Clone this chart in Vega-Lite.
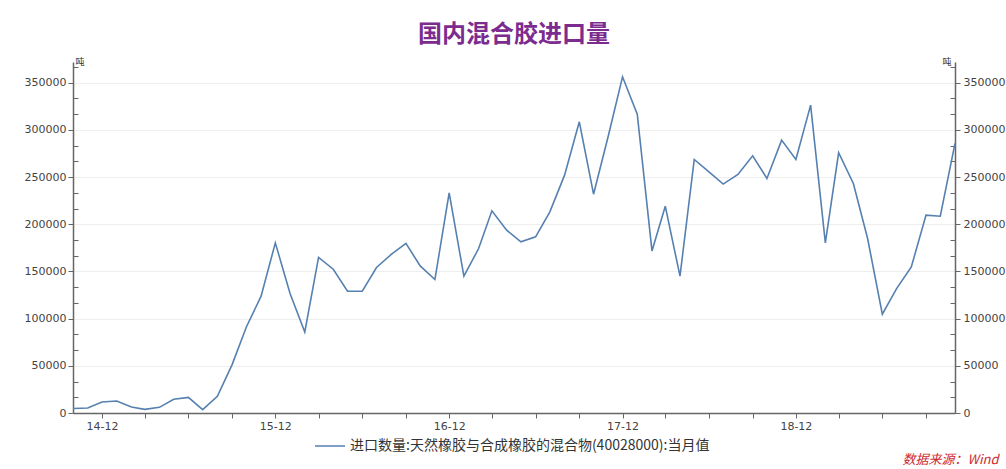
{
  "$schema": "https://vega.github.io/schema/vega-lite/v6.json",
  "autosize": "none",
  "width": 882,
  "height": 351,
  "padding": {"left": 73, "top": 62, "right": 51, "bottom": 56},
  "background": "white",
  "title": {
    "text": "国内混合胶进口量",
    "color": "#7B2C8E",
    "fontSize": 24,
    "font": "Noto Sans CJK SC",
    "fontWeight": "bold",
    "anchor": "middle",
    "offset": 10
  },
  "config": {
    "view": {"stroke": null},
    "axis": {
      "labelFont": "DejaVu Sans",
      "labelFontSize": 11,
      "labelColor": "#444444",
      "domainColor": "#666666",
      "domainWidth": 1.5,
      "tickColor": "#666666",
      "tickWidth": 1
    }
  },
  "data": {
    "values": [
      {"date": "2014-10-01", "value": 4700},
      {"date": "2014-11-01", "value": 5300},
      {"date": "2014-12-01", "value": 11700},
      {"date": "2015-01-01", "value": 12700},
      {"date": "2015-02-01", "value": 6400},
      {"date": "2015-03-01", "value": 3900},
      {"date": "2015-04-01", "value": 6000},
      {"date": "2015-05-01", "value": 14500},
      {"date": "2015-06-01", "value": 16600},
      {"date": "2015-07-01", "value": 3600},
      {"date": "2015-08-01", "value": 17700},
      {"date": "2015-09-01", "value": 51300},
      {"date": "2015-10-01", "value": 91200},
      {"date": "2015-11-01", "value": 123800},
      {"date": "2015-12-01", "value": 180300},
      {"date": "2016-01-01", "value": 126600},
      {"date": "2016-02-01", "value": 85900},
      {"date": "2016-03-01", "value": 164900},
      {"date": "2016-04-01", "value": 152400},
      {"date": "2016-05-01", "value": 129100},
      {"date": "2016-06-01", "value": 129100},
      {"date": "2016-07-01", "value": 154200},
      {"date": "2016-08-01", "value": 168000},
      {"date": "2016-09-01", "value": 179700},
      {"date": "2016-10-01", "value": 155900},
      {"date": "2016-11-01", "value": 141500},
      {"date": "2016-12-01", "value": 233300},
      {"date": "2017-01-01", "value": 145000},
      {"date": "2017-02-01", "value": 174300},
      {"date": "2017-03-01", "value": 214300},
      {"date": "2017-04-01", "value": 193800},
      {"date": "2017-05-01", "value": 181400},
      {"date": "2017-06-01", "value": 186700},
      {"date": "2017-07-01", "value": 213200},
      {"date": "2017-08-01", "value": 252100},
      {"date": "2017-09-01", "value": 308600},
      {"date": "2017-10-01", "value": 231900},
      {"date": "2017-11-01", "value": 293500},
      {"date": "2017-12-01", "value": 356300},
      {"date": "2018-01-01", "value": 316800},
      {"date": "2018-02-01", "value": 171800},
      {"date": "2018-03-01", "value": 219200},
      {"date": "2018-04-01", "value": 145000},
      {"date": "2018-05-01", "value": 268700},
      {"date": "2018-06-01", "value": 255600},
      {"date": "2018-07-01", "value": 242600},
      {"date": "2018-08-01", "value": 252800},
      {"date": "2018-09-01", "value": 272600},
      {"date": "2018-10-01", "value": 248600},
      {"date": "2018-11-01", "value": 289200},
      {"date": "2018-12-01", "value": 268700},
      {"date": "2019-01-01", "value": 326300},
      {"date": "2019-02-01", "value": 180300},
      {"date": "2019-03-01", "value": 275800},
      {"date": "2019-04-01", "value": 243300},
      {"date": "2019-05-01", "value": 184900},
      {"date": "2019-06-01", "value": 104700},
      {"date": "2019-07-01", "value": 131900},
      {"date": "2019-08-01", "value": 154800},
      {"date": "2019-09-01", "value": 209700},
      {"date": "2019-10-01", "value": 208600},
      {"date": "2019-11-01", "value": 285700}
    ]
  },
  "encoding": {
    "x": {
      "field": "date",
      "type": "temporal",
      "scale": {
        "type": "utc",
        "domain": [
          {"year": 2014, "month": 10, "date": 1, "utc": true},
          {"year": 2019, "month": 11, "date": 1, "utc": true}
        ]
      },
      "axis": {
        "values": [
          {"year": 2014, "month": 12, "date": 1, "utc": true},
          {"year": 2015, "month": 3, "date": 1, "utc": true},
          {"year": 2015, "month": 6, "date": 1, "utc": true},
          {"year": 2015, "month": 9, "date": 1, "utc": true},
          {"year": 2015, "month": 12, "date": 1, "utc": true},
          {"year": 2016, "month": 3, "date": 1, "utc": true},
          {"year": 2016, "month": 6, "date": 1, "utc": true},
          {"year": 2016, "month": 9, "date": 1, "utc": true},
          {"year": 2016, "month": 12, "date": 1, "utc": true},
          {"year": 2017, "month": 3, "date": 1, "utc": true},
          {"year": 2017, "month": 6, "date": 1, "utc": true},
          {"year": 2017, "month": 9, "date": 1, "utc": true},
          {"year": 2017, "month": 12, "date": 1, "utc": true},
          {"year": 2018, "month": 3, "date": 1, "utc": true},
          {"year": 2018, "month": 6, "date": 1, "utc": true},
          {"year": 2018, "month": 9, "date": 1, "utc": true},
          {"year": 2018, "month": 12, "date": 1, "utc": true},
          {"year": 2019, "month": 3, "date": 1, "utc": true},
          {"year": 2019, "month": 6, "date": 1, "utc": true},
          {"year": 2019, "month": 9, "date": 1, "utc": true}
        ],
        "labelExpr": "utcmonth(datum.value) === 11 ? utcFormat(datum.value, '%y-%m') : ''",
        "grid": false,
        "tickSize": 5,
        "labelPadding": 2,
        "labelFlush": false,
        "labelOverlap": false,
        "title": "数据来源：Wind",
        "titleX": 925,
        "titleY": 46,
        "titleAlign": "right",
        "titleAnchor": null,
        "titleBaseline": "middle",
        "titleColor": "#D0282E",
        "titleFont": "Noto Sans CJK SC",
        "titleFontSize": 13,
        "titleFontStyle": "italic",
        "titleFontWeight": "normal"
      }
    },
    "y": {
      "field": "value",
      "type": "quantitative",
      "scale": {"domain": [0, 372000], "nice": false, "zero": true}
    }
  },
  "layer": [
    {
      "mark": {"type": "line", "strokeWidth": 1.6, "interpolate": "linear"},
      "encoding": {
        "color": {
          "datum": "进口数量:天然橡胶与合成橡胶的混合物(40028000):当月值",
          "type": "nominal",
          "scale": {"range": ["#5580B0"]},
          "legend": {
            "orient": "none",
            "legendX": 241,
            "legendY": 368,
            "title": null,
            "symbolType": "stroke",
            "symbolSize": 900,
            "symbolStrokeWidth": 1.5,
            "labelFont": "Noto Sans CJK SC",
            "labelFontSize": 14,
            "labelColor": "#333333",
            "labelLimit": 600
          }
        },
        "y": {
          "field": "value",
          "type": "quantitative",
          "axis": {
            "orient": "left",
            "values": [0, 16667, 33333, 50000, 66667, 83333, 100000, 116667, 133333, 150000, 166667, 183333, 200000, 216667, 233333, 250000, 266667, 283333, 300000, 316667, 333333, 350000, 366667],
            "labelExpr": "datum.value % 50000 === 0 ? format(datum.value, 'd') : ''",
            "tickSize": {"condition": {"test": "datum.value % 50000 === 0", "value": 5}, "value": -5},
            "grid": true,
            "gridColor": "#EEEEEE",
            "gridOpacity": {"condition": {"test": "datum.value % 50000 === 0", "value": 1}, "value": 0},
            "labelPadding": 2,
            "title": "吨",
            "titleAngle": 0,
            "titleX": 2,
            "titleY": 4,
            "titleAlign": "left",
            "titleBaseline": "bottom",
            "titleFont": "Noto Sans CJK SC",
            "titleFontSize": 9,
            "titleFontWeight": "normal",
            "titleColor": "#333333"
          }
        }
      }
    },
    {
      "mark": {"type": "line", "strokeOpacity": 0},
      "encoding": {
        "y": {
          "field": "value",
          "type": "quantitative",
          "axis": {
            "orient": "right",
            "values": [0, 16667, 33333, 50000, 66667, 83333, 100000, 116667, 133333, 150000, 166667, 183333, 200000, 216667, 233333, 250000, 266667, 283333, 300000, 316667, 333333, 350000, 366667],
            "labelExpr": "datum.value % 50000 === 0 ? format(datum.value, 'd') : ''",
            "tickSize": {"condition": {"test": "datum.value % 50000 === 0", "value": 5}, "value": -5},
            "grid": false,
            "labelPadding": 3,
            "title": "吨",
            "titleAngle": 0,
            "titleX": -13,
            "titleY": 4,
            "titleAlign": "left",
            "titleBaseline": "bottom",
            "titleFont": "Noto Sans CJK SC",
            "titleFontSize": 9,
            "titleFontWeight": "normal",
            "titleColor": "#333333"
          }
        }
      }
    }
  ],
  "resolve": {"axis": {"y": "independent"}}
}
